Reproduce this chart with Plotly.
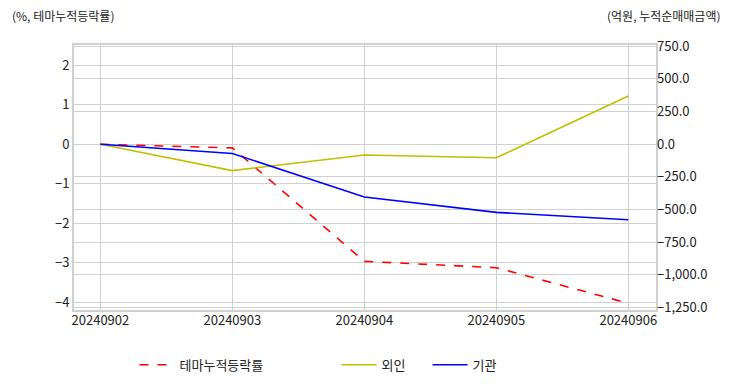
import plotly.graph_objects as go

dates = ["20240902", "20240903", "20240904", "20240905", "20240906"]
theme_rate = [0.0, -0.09, -2.96, -3.12, -4.02]
foreign_net = [0.0, -202.0, -83.0, -104.0, 368.0]
inst_net = [0.0, -71.0, -404.0, -522.0, -578.0]

left_ticks = [2, 1, 0, -1, -2, -3, -4]
right_ticks = [750, 500, 250, 0, -250, -500, -750, -1000, -1250]

FONT = "Noto Sans CJK KR"
GRID = "#d0d0d0"
TXT = "#222222"

fig = go.Figure()
fig.add_trace(go.Scatter(x=dates, y=theme_rate, name="테마누적등락률", mode="lines", showlegend=True,
                         line=dict(color="#ff0000", width=1.6, dash="dash"), yaxis="y", legend="legend"))
fig.add_trace(go.Scatter(x=dates, y=foreign_net, name="외인", mode="lines", showlegend=True,
                         line=dict(color="#bfbf00", width=1.6), yaxis="y2", legend="legend2"))
fig.add_trace(go.Scatter(x=dates, y=inst_net, name="기관", mode="lines", showlegend=True,
                         line=dict(color="#0000ff", width=1.6), yaxis="y2", legend="legend3"))

leg_common = dict(orientation="h", y=-0.15, yanchor="top", xanchor="left", itemwidth=35,
                  font=dict(size=13, color=TXT), bgcolor="rgba(0,0,0,0)")

fig.update_layout(
    width=732, height=392,
    showlegend=True,
    margin=dict(l=74, r=76, t=45, b=70),
    paper_bgcolor="white", plot_bgcolor="white",
    font=dict(family=FONT, size=13, color=TXT),
    xaxis=dict(type="category", range=[-0.2, 4.21], showgrid=True, gridcolor=GRID, gridwidth=1,
               showline=True, linecolor=GRID, linewidth=2, mirror=True, ticks="",
               ticklabelstandoff=-3,
               tickfont=dict(size=13, color=TXT), zeroline=False),
    yaxis=dict(range=[-4.19, 2.51], tickvals=left_ticks, showgrid=True, gridcolor=GRID, gridwidth=1,
               showline=True, linecolor=GRID, linewidth=2, mirror=True, ticks="", zeroline=False,
               tickfont=dict(size=13, color=TXT)),
    yaxis2=dict(range=[-1269, 759], tickvals=right_ticks, tickformat=",.1f", overlaying="y", side="right",
                showgrid=True, gridcolor=GRID, gridwidth=1, ticks="", zeroline=False,
                tickfont=dict(size=13, color=TXT)),
    legend=dict(x=0.104, **leg_common),
    legend2=dict(x=0.451, **leg_common),
    legend3=dict(x=0.6075, **leg_common),
    annotations=[
        dict(text="(%, 테마누적등락률)", xref="paper", yref="paper", x=-0.11, y=1.0, xanchor="left",
             yanchor="bottom", yshift=19, showarrow=False, font=dict(size=12, color=TXT)),
        dict(text="(억원, 누적순매매금액)", xref="paper", yref="paper", x=1.115, y=1.0, xanchor="right",
             yanchor="bottom", yshift=19, showarrow=False, font=dict(size=12, color=TXT)),
    ],
)

fig.write_html("out.html", config={"displayModeBar": False},
               post_script="document.body.style.margin='0';")
